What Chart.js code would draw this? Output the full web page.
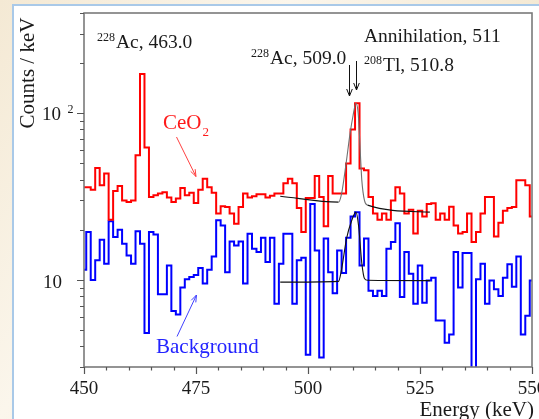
<!DOCTYPE html>
<html><head><meta charset="utf-8">
<script src="https://cdn.jsdelivr.net/npm/chart.js@4/dist/chart.umd.min.js"></script>
<style>
html,body{margin:0;padding:0;width:539px;height:419px;overflow:hidden;}
body{background:linear-gradient(125deg,#f4e9d4 0%,#fbf6ec 35%,#f3e7d0 70%,#faf3e6 100%);position:relative;}
#panel{position:absolute;left:12px;top:4px;width:527px;height:415px;background:#fff;border-left:2px solid #a9c9e8;border-top:2px solid #a9c9e8;box-sizing:border-box;}
canvas{position:absolute;left:0;top:0;}
</style></head><body>
<div id="panel"></div>
<canvas id="c" width="539" height="419"></canvas>
<script>
// Energy bin centres (keV)
const energies = [450,451,452,453,454,455,456,457,458,459,460,461,462,463,464,465,466,467,468,469,
470,471,472,473,474,475,476,477,478,479,480,481,482,483,484,485,486,487,488,489,
490,491,492,493,494,495,496,497,498,499,500,501,502,503,504,505,506,507,508,509,
510,511,512,513,514,515,516,517,518,519,520,521,522,523,524,525,526,527,528,529,
530,531,532,533,534,535,536,537,538,539,540,541,542,543,544,545,546,547,548,549,550];

// CeO2 spectrum (counts / keV)
const ceo2Counts = [36,36,34.8,47,37,43.5,23,34.2,36.6,30,29.3,30,56,172,62.4,31.5,32.2,33,33.6,31.2,
29.3,30.8,35.6,32.2,33.3,28.9,34.8,40.5,36,33.3,25,27.7,27.4,25,21.7,27.4,33,31.2,31.8,32.7,
32.7,31.2,32,33,33,38,40.5,38,27,19.4,31,31,42,31.5,21,42,33,33,33,50,
80,115,46.7,45.5,31.5,25,23,25,23,30,36,33,25,26.4,19,26,24,28.5,28.8,23,
25,23,27.5,21.2,19,19.4,25,16.9,19.4,25,31.5,31.5,18.2,22,26,27,27.4,39.6,39.6,37,24];

// Background spectrum (counts / keV)
const backgroundCounts = [11.5,19.4,10,13.1,17.4,12.5,22.5,18.1,20,16.5,14,12.5,19.6,16.5,4.8,19.4,18.7,8.2,8.2,12.2,
6.5,6.2,9.0,10.1,10.4,10.7,11.8,9.5,11.5,13.8,22.8,21.2,11.1,17,16.1,17,9.5,18.9,15.4,14.7,
17.9,12.8,17.9,7.2,12.5,18.9,18.9,7.2,13.1,13.6,3.55,28.5,15,3.42,17.7,11.1,8.3,15,11,17.9,
24,25.5,12.2,17.7,8.6,8.0,8.6,8.0,15.4,16.9,21.9,7.9,14.7,10.9,7.2,12.2,7.3,9.9,10.3,5.7,
5.7,4.2,4.7,14.7,9,14.5,14.5,2,10.1,12.5,7.2,9.9,8.8,8.0,10.3,12.4,9.1,13.8,4.7,6.1,9.9];

// Fit curves
const ceo2FitEnergy = [493.8,506.8,507.5,508.5,509.4,510.0,510.7,511.2,511.8,512.0,512.6,513.3,527.2];
const ceo2FitCounts = [31.8,29.3,33,50,76,95,115,100,50,40,30,28.1,25.5];
const bgFitEnergy = [493.8,506.8,507.5,508.6,509.7,510.7,511.3,512.0,512.6,513.3,527.2];
const bgFitCounts = [9.7,9.8,11.6,17.7,22.5,25.5,21,12.7,10.2,9.95,9.9];

const xTickLabels = [450,475,500,525,550];
const yTickLabels = [10,100];

const SERIF = '"Liberation Serif","DejaVu Serif",serif';

function pts(xs, ys){ return xs.map((x,i)=>({x:x,y:ys[i]})); }

const decor = {
  id:'decor',
  afterDatasetsDraw(chart){
    const ctx = chart.ctx, a = chart.chartArea, xs = chart.scales.x, ys = chart.scales.y;
    ctx.save();
    ctx.strokeStyle = '#7a7a7a';
    ctx.lineWidth = 1.6;
    ctx.strokeRect(a.left, a.top, a.right-a.left, a.bottom-a.top);
    ctx.lineWidth = 1.2;
    ctx.strokeStyle = '#555';
    ctx.beginPath();
    for (let v=450; v<=550; v+=5){
      const px = Math.round(xs.getPixelForValue(v))+0.5;
      const len = (v%25===0)?7:3.5;
      ctx.moveTo(px, a.bottom); ctx.lineTo(px, a.bottom+len);
    }
    const decades = [1,10,100];
    decades.forEach(d=>{
      for (let m=1; m<=9; m++){
        const v = m*d;
        if (v<3 || v>400) continue;
        const py = Math.round(ys.getPixelForValue(v))+0.5;
        const len = (m===1)?7:4;
        ctx.moveTo(a.left, py); ctx.lineTo(a.left-len, py);
      }
    });
    ctx.stroke();
    ctx.restore();
  },
  afterDraw(chart){
    const ctx = chart.ctx, a = chart.chartArea, xs = chart.scales.x, ys = chart.scales.y;
    ctx.save();
    ctx.fillStyle = '#1a1a1a';
    ctx.font = '19px '+SERIF;
    ctx.textAlign = 'center';
    ctx.textBaseline = 'alphabetic';
    xTickLabels.forEach(v=>{ ctx.fillText(String(v), xs.getPixelForValue(v), 394); });
    // y tick labels
    ctx.textAlign = 'right';
    ctx.font = '19px '+SERIF;
    const p10 = ys.getPixelForValue(yTickLabels[0]);
    ctx.fillText('10', 62, p10+8);
    const p100 = ys.getPixelForValue(yTickLabels[1]);
    ctx.fillText('10', 61, p100+7);
    ctx.textAlign = 'left';
    ctx.font = '12px '+SERIF;
    ctx.fillText('2', 67.5, p100-0.5);
    // axis titles
    ctx.font = '21px '+SERIF;
    ctx.textAlign = 'right';
    ctx.fillText('Energy (keV)', 534, 416);
    ctx.save();
    ctx.translate(34, 73);
    ctx.rotate(-Math.PI/2);
    ctx.textAlign = 'center';
    ctx.fillText('Counts / keV', 0, 0);
    ctx.restore();
    // annotations
    ctx.textAlign = 'left';
    function sup(pre, main, x, yb){
      ctx.font = '12px '+SERIF; ctx.fillText(pre, x, yb-7);
      const w = ctx.measureText(pre).width;
      ctx.font = '19.5px '+SERIF; ctx.fillText(main, x+w+1, yb);
    }
    sup('228','Ac, 463.0', 97, 48);
    sup('228','Ac, 509.0', 251, 64);
    ctx.font = '19.5px '+SERIF;
    ctx.fillText('Annihilation, 511', 364, 42);
    sup('208','Tl, 510.8', 364, 71);
    // arrows
    function arrow(x1,y1,x2,y2,col,hl,hw){
      ctx.strokeStyle = col; ctx.lineWidth = 1;
      ctx.beginPath(); ctx.moveTo(x1,y1); ctx.lineTo(x2,y2); ctx.stroke();
      const ang = Math.atan2(y2-y1, x2-x1);
      ctx.beginPath();
      ctx.moveTo(x2 - hl*Math.cos(ang) + hw*Math.sin(ang), y2 - hl*Math.sin(ang) - hw*Math.cos(ang));
      ctx.lineTo(x2,y2);
      ctx.lineTo(x2 - hl*Math.cos(ang) - hw*Math.sin(ang), y2 - hl*Math.sin(ang) + hw*Math.cos(ang));
      ctx.stroke();
    }
    arrow(349.5,65,349.5,96,'#111',7,2.8);
    arrow(356.5,61,356.5,90,'#111',7,2.8);
    // CeO2 label
    ctx.fillStyle = '#ff1a1a';
    ctx.font = '21px '+SERIF;
    ctx.fillText('CeO', 163, 129);
    const wc = ctx.measureText('CeO').width;
    ctx.font = '13px '+SERIF;
    ctx.fillText('2', 163+wc+1, 136);
    arrow(176.5,137,196,176.5,'#ff4040',7,2.5);
    // Background label
    ctx.fillStyle = '#2323ff';
    ctx.font = '21px '+SERIF;
    ctx.fillText('Background', 156, 353);
    arrow(177,336.5,196.5,295,'#4040ff',7,2.5);
    ctx.restore();
  }
};

new Chart(document.getElementById('c').getContext('2d'), {
  type:'line',
  data:{datasets:[
    {label:'CeO2 fit', data:pts(ceo2FitEnergy, ceo2FitCounts), borderColor:'#111', borderWidth:1.1,
      cubicInterpolationMode:'monotone', pointRadius:0, fill:false, order:0,
      segment:{borderColor: c => (c.p0.parsed.x>=506.8 && c.p1.parsed.x<=513.3) ? '#707070' : '#111'}},
    {label:'Background fit', data:pts(bgFitEnergy, bgFitCounts), borderColor:'#111', borderWidth:1.1,
      cubicInterpolationMode:'monotone', pointRadius:0, fill:false, order:0},
    {label:'CeO2', data:pts(energies, ceo2Counts), borderColor:'#ff0000', borderWidth:2,
      stepped:'middle', pointRadius:0, fill:false, order:1},
    {label:'Background', data:pts(energies, backgroundCounts), borderColor:'#0000ff', borderWidth:2,
      stepped:'middle', pointRadius:0, fill:false, order:2}
  ]},
  options:{
    responsive:false, animation:false, devicePixelRatio:1,
    layout:{padding:{left:84,right:7,top:13,bottom:52}},
    plugins:{legend:{display:false}, tooltip:{enabled:false}},
    scales:{
      x:{type:'linear', min:450, max:550, bounds:'data', display:false},
      y:{type:'logarithmic', min:3, max:400, bounds:'data', display:false}
    }
  },
  plugins:[decor]
});
</script>
</body></html>
